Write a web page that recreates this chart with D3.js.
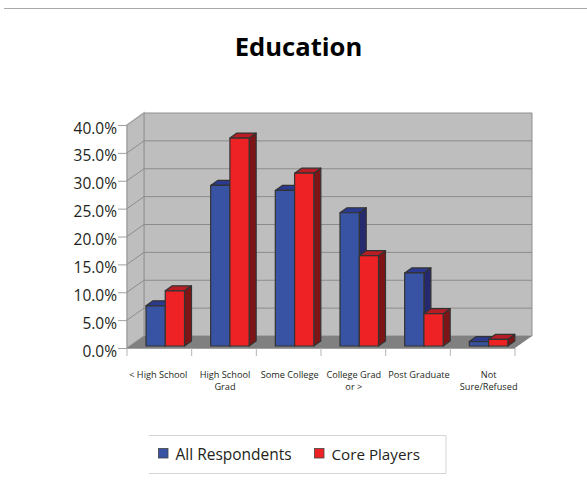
<!DOCTYPE html>
<html><head><meta charset="utf-8">
<script src="https://cdnjs.cloudflare.com/ajax/libs/d3/7.8.5/d3.min.js"></script>
<style>html,body{margin:0;padding:0;background:#fff}svg{display:block}text{font-family:"Open Sans",sans-serif;fill:#231f20}</style>
</head><body><svg id="c" width="587" height="485"></svg>
<script>
const categories = [["< High School"],["High School","Grad"],["Some College"],["College Grad","or >"],["Post Graduate"],["Not","Sure/Refused"]];
const allRespondents = [7.2, 28.8, 27.9, 23.9, 13.1, 0.8];
const corePlayers = [9.9, 37.3, 31.0, 16.2, 5.8, 1.2];
const seriesNames = ["All Respondents","Core Players"];
const yTicks = [0,5,10,15,20,25,30,35,40];

const frontColors = ["#3953a4","#ee2224"], topColors = ["#2b3a8f","#b81c24"], sideColors = ["#27296f","#7d1416"];
const depth = {x:17, y:-12}, barDepth = {x:7, y:-5};
const labelShift = [-1,1,1,0.5,1,6];
const svg = d3.select("#c");

svg.append("line").attr("x1",4).attr("x2",587).attr("y1",8.5).attr("y2",8.5).attr("stroke","#a7a9ac").attr("stroke-width",1);
svg.append("text").attr("x",298.5).attr("y",56).attr("text-anchor","middle").style("font-size","25.6px").style("font-weight",700).style("fill","#000").text("Education");

const x = d3.scaleBand().domain(d3.range(categories.length)).range([127,515]);
const y = d3.scaleLinear().domain([0,40]).range([348,125]);
const L=x.range()[0], R=x.range()[1], Y0=y(0), Y40=y(40);
const poly = pts => pts.map(p=>p.join(",")).join(" ");

// walls and floor
svg.append("polygon").attr("points",poly([[L+depth.x,Y40+depth.y],[R+depth.x,Y40+depth.y],[R+depth.x,Y0+depth.y],[L+depth.x,Y0+depth.y]])).attr("fill","#bebebe").attr("stroke","#8f8f8f").attr("stroke-width",1);
svg.append("polygon").attr("points",poly([[L,Y40],[L+depth.x,Y40+depth.y],[L+depth.x,Y0+depth.y],[L,Y0]])).attr("fill","#bebebe").attr("stroke","#a0a0a0").attr("stroke-width",1.5);
svg.append("polygon").attr("points",poly([[L,Y0],[L+depth.x,Y0+depth.y],[R+depth.x,Y0+depth.y],[R,Y0]])).attr("fill","#808080");

// gridlines
yTicks.slice(1,-1).forEach(t=>{
  svg.append("polyline").attr("points",poly([[L,y(t)],[L+depth.x,y(t)+depth.y],[R+depth.x,y(t)+depth.y]])).attr("fill","none").attr("stroke","#8c8c8c").attr("stroke-width",1);
});

// axes
const gy = svg.append("g").attr("transform",`translate(${L},0)`).call(d3.axisLeft(y).tickValues(yTicks).tickSize(9).tickPadding(1).tickFormat(d=>d.toFixed(1)+"%"));
gy.select(".domain").remove();
gy.selectAll("line").attr("stroke","#a0a0a0");
gy.selectAll("text").attr("dy","0.52em").style("font-size","15.5px");
svg.append("line").attr("x1",L).attr("x2",R).attr("y1",Y0).attr("y2",Y0).attr("stroke","#808080").attr("stroke-width",1.5);
svg.selectAll(".xt").data(d3.range(categories.length+1)).join("line").attr("class","xt")
  .attr("x1",i=>i<categories.length?x(i):R).attr("x2",i=>i<categories.length?x(i):R).attr("y1",Y0).attr("y2",Y0+8).attr("stroke","#b5b5b5");

// bars
const inner = d3.scaleBand().domain([0,1]).range([19,57.5]);
const base = 346;
const h = v => y(0)-y(v);
[allRespondents,corePlayers].forEach((vals,s)=>{
  vals.forEach((v,i)=>{
    const x0=x(i)+inner(s), w=inner.bandwidth(), t=base-h(v);
    const g=svg.append("g").attr("stroke","#333").attr("stroke-width",1.2).attr("stroke-linejoin","round");
    g.append("polygon").attr("points",poly([[x0+w,t],[x0+w+barDepth.x,t+barDepth.y],[x0+w+barDepth.x,base+barDepth.y],[x0+w,base]])).attr("fill",sideColors[s]);
    g.append("polygon").attr("points",poly([[x0,t],[x0+barDepth.x,t+barDepth.y],[x0+w+barDepth.x,t+barDepth.y],[x0+w,t]])).attr("fill",topColors[s]);
    g.append("rect").attr("x",x0).attr("y",t).attr("width",w).attr("height",base-t).attr("fill",frontColors[s]);
  });
});

// category labels
categories.forEach((lines,i)=>{
  const cx=x(i)+x.bandwidth()/2+labelShift[i];
  lines.forEach((l,k)=>svg.append("text").attr("text-anchor","middle").attr("x",cx).attr("y",377.5+k*12.6).style("font-size","9.2px").text(l));
});

// legend (open on the left side)
svg.append("path").attr("d",d3.line()([[149,435.5],[446,435.5],[446,473.5],[149,473.5]])).attr("fill","#fff").attr("stroke","#d4d4d4");
const legendX=[158.5,314.5];
seriesNames.forEach((n,s)=>{
  svg.append("rect").attr("x",legendX[s]).attr("y",448.5).attr("width",9.5).attr("height",9.5).attr("fill",frontColors[s]).attr("stroke","#444").attr("stroke-width",.8);
  svg.append("text").attr("x",legendX[s]+17).attr("y",460).style("font-size",s?"15.2px":"15.5px").text(n);
});
</script></body></html>
